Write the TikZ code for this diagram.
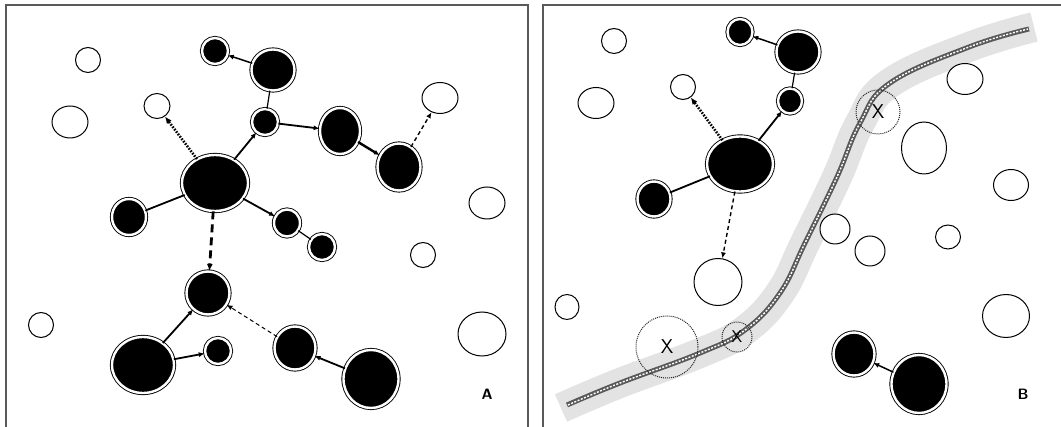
\documentclass[tikz,border=0pt]{standalone}
\usepackage{tikz}
\usetikzlibrary{shapes.geometric,arrows.meta}

\tikzset{
  cell/.style={ellipse, draw=black, fill=black, double=white, double distance=2.4pt,
               line width=0.9pt, inner sep=0pt},
  void/.style={ellipse, draw=black, fill=white, line width=1pt, inner sep=0pt},
  lost/.style={circle, draw=black!85, densely dotted, line width=1pt, inner sep=0pt,
               font=\sffamily\fontsize{20}{20}\selectfont},
  sz/.style 2 args={minimum width=#1pt, minimum height=#2pt},
  link/.style={line width=1.8pt, -{Latex[length=6pt,width=5pt]}},
  plain/.style={line width=1.2pt},
  hint/.style={line width=2.6pt, dash pattern=on 1.6pt off 1.4pt, -{Latex[length=7pt,width=6pt]}},
  trace/.style={line width=1.4pt, dash pattern=on 4pt off 3pt, -{Latex[length=6pt,width=5pt]}},
  jump/.style={line width=2.8pt, dash pattern=on 8pt off 5pt, -{Latex[length=7pt,width=6pt]}},
  frame/.style={draw=black!65, line width=2pt},
  panel/.style={font=\sffamily\bfseries\fontsize{15}{15}\selectfont}
}

\begin{document}
\begin{tikzpicture}[x=1pt, y=-1pt]

    \useasboundingbox (0,0) rectangle (1061,427);

    % Rahmen
    \draw[frame] (6,5) rectangle (528,445);
    \draw[frame] (543,5) rectangle (1080,445);

    % Strasse (rechts)
    \draw[gray!22, line width=30pt]
        plot[smooth, tension=0.7] coordinates {(561,408) (620,383) (700,353) (745,330) (780,293)
        (805,243) (837,177) (860,123) (890,83) (969,47) (1034,27)};
    \draw[black!65, line width=5pt]
        plot[smooth, tension=0.7] coordinates {(567,405) (620,383) (700,353) (745,330) (780,293)
        (805,243) (837,177) (860,123) (890,83) (969,47) (1029,29)};
    \draw[white, line width=1.4pt, dash pattern=on 2pt off 1.5pt]
        plot[smooth, tension=0.7] coordinates {(568,405) (620,383) (700,353) (745,330) (780,293)
        (805,243) (837,177) (860,123) (890,83) (969,47) (1028,29)};

    % Panel A: leere Kreise
    \node[void, sz={25}{25}] (lv1) at (88,60) {};
    \node[void, sz={36}{32}] (lv2) at (70,122) {};
    \node[void, sz={26}{25}] (lv3) at (157,106) {};
    \node[void, sz={36}{31}] (lv7) at (440,98) {};
    \node[void, sz={36}{32}] (lv8) at (487,203) {};
    \node[void, sz={25}{25}] (lv15) at (423,255) {};
    \node[void, sz={25}{25}] (lv17) at (41,325) {};
    \node[void, sz={48}{44}] (lv22) at (482,334) {};

    % Panel A: Zellen
    \node[cell, sz={26}{26}] (ltop) at (215,51) {};
    \node[cell, sz={43}{41}] (lup) at (273,70) {};
    \node[cell, sz={26}{26}] (lmid) at (265,122) {};
    \node[cell, sz={66}{56}] (lhub) at (215,183) {};
    \node[cell, sz={40}{46}] (lr1) at (340,131) {};
    \node[cell, sz={43}{47}] (lr2) at (399,167) {};
    \node[cell, sz={34}{36}] (lleft) at (129,217) {};
    \node[cell, sz={26}{27}] (ld1) at (287,223) {};
    \node[cell, sz={26}{26}] (ld2) at (322,247) {};
    \node[cell, sz={43}{43}] (lmid2) at (208,293) {};
    \node[cell, sz={62}{56}] (lbl) at (143,365) {};
    \node[cell, sz={26}{26}] (lbs) at (218,351) {};
    \node[cell, sz={41}{43}] (lbr1) at (295,348) {};
    \node[cell, sz={55}{58}] (lbig) at (371,379) {};

    % Panel A: Verbindungen
    \draw[link, line width=1.5pt] (lup) -- (ltop);
    \draw[plain] (lup) -- (lmid);
    \draw[link] (lmid) -- (lr1);
    \draw[link] (lhub) -- (lmid);
    \draw[hint] (lhub) -- (lv3);
    \draw[link, line width=2.4pt] (lr1) -- (lr2);
    \draw[trace] (lr2) -- (lv7);
    \draw[plain, line width=1.8pt] (lhub) -- (lleft);
    \draw[link] (lhub) -- (ld1);
    \draw[plain] (ld1) -- (ld2);
    \draw[jump] (lhub) -- (lmid2);
    \draw[link] (lbl) -- (lmid2);
    \draw[link] (lbl) -- (lbs);
    \draw[trace, line width=1pt] (lbr1) -- (lmid2);
    \draw[link] (lbig) -- (lbr1);

    \node[panel] (la) at (487,394) {A};

    % Panel B: leere Kreise
    \node[void, sz={25}{25}] (rv1) at (614,41) {};
    \node[void, sz={36}{31}] (rv2) at (596,103) {};
    \node[void, sz={25}{25}] (rv3) at (683,87) {};
    \node[void, sz={45}{52}] (rv10) at (924,148) {};
    \node[void, sz={36}{31}] (rv11) at (965,79) {};
    \node[void, sz={35}{31}] (rv12) at (1011,185) {};
    \node[void, sz={30}{30}] (rv13) at (835,229) {};
    \node[void, sz={30}{30}] (rv14) at (870,251) {};
    \node[void, sz={25}{24}] (rv15) at (948,237) {};
    \node[void, sz={48}{47}] (rv16) at (718,282) {};
    \node[void, sz={24}{25}] (rv17) at (567,307) {};
    \node[void, sz={47}{43}] (rv22) at (1006,316) {};

    % Panel B: verlorene Zellen
    \node[lost, minimum size=44pt] (rx1) at (878,112) {X};
    \node[lost, minimum size=62pt] (rx2) at (667,347) {X};
    \node[lost, minimum size=30pt, font=\sffamily\fontsize{17}{17}\selectfont] (rx3) at (737,337) {X};

    % Panel B: Zellen
    \node[cell, sz={25}{26}] (rtop) at (740,32) {};
    \node[cell, sz={43}{41}] (rup) at (798,52) {};
    \node[cell, sz={24}{25}] (rmid) at (790,101) {};
    \node[cell, sz={66}{55}] (rhub) at (740,164) {};
    \node[cell, sz={33}{35}] (rleft) at (654,199) {};
    \node[cell, sz={41}{43}] (rb1) at (854,354) {};
    \node[cell, sz={55}{58}] (rbig) at (919,384) {};

    % Panel B: Verbindungen
    \draw[link, line width=1.5pt] (rup) -- (rtop);
    \draw[plain] (rup) -- (rmid);
    \draw[link] (rhub) -- (rmid);
    \draw[hint] (rhub) -- (rv3);
    \draw[plain, line width=1.8pt] (rhub) -- (rleft);
    \draw[trace] (rhub) -- (rv16);
    \draw[link, line width=1.5pt] (rbig) -- (rb1);

    \node[panel] (rb) at (1023,394) {B};

\end{tikzpicture}
\end{document}
